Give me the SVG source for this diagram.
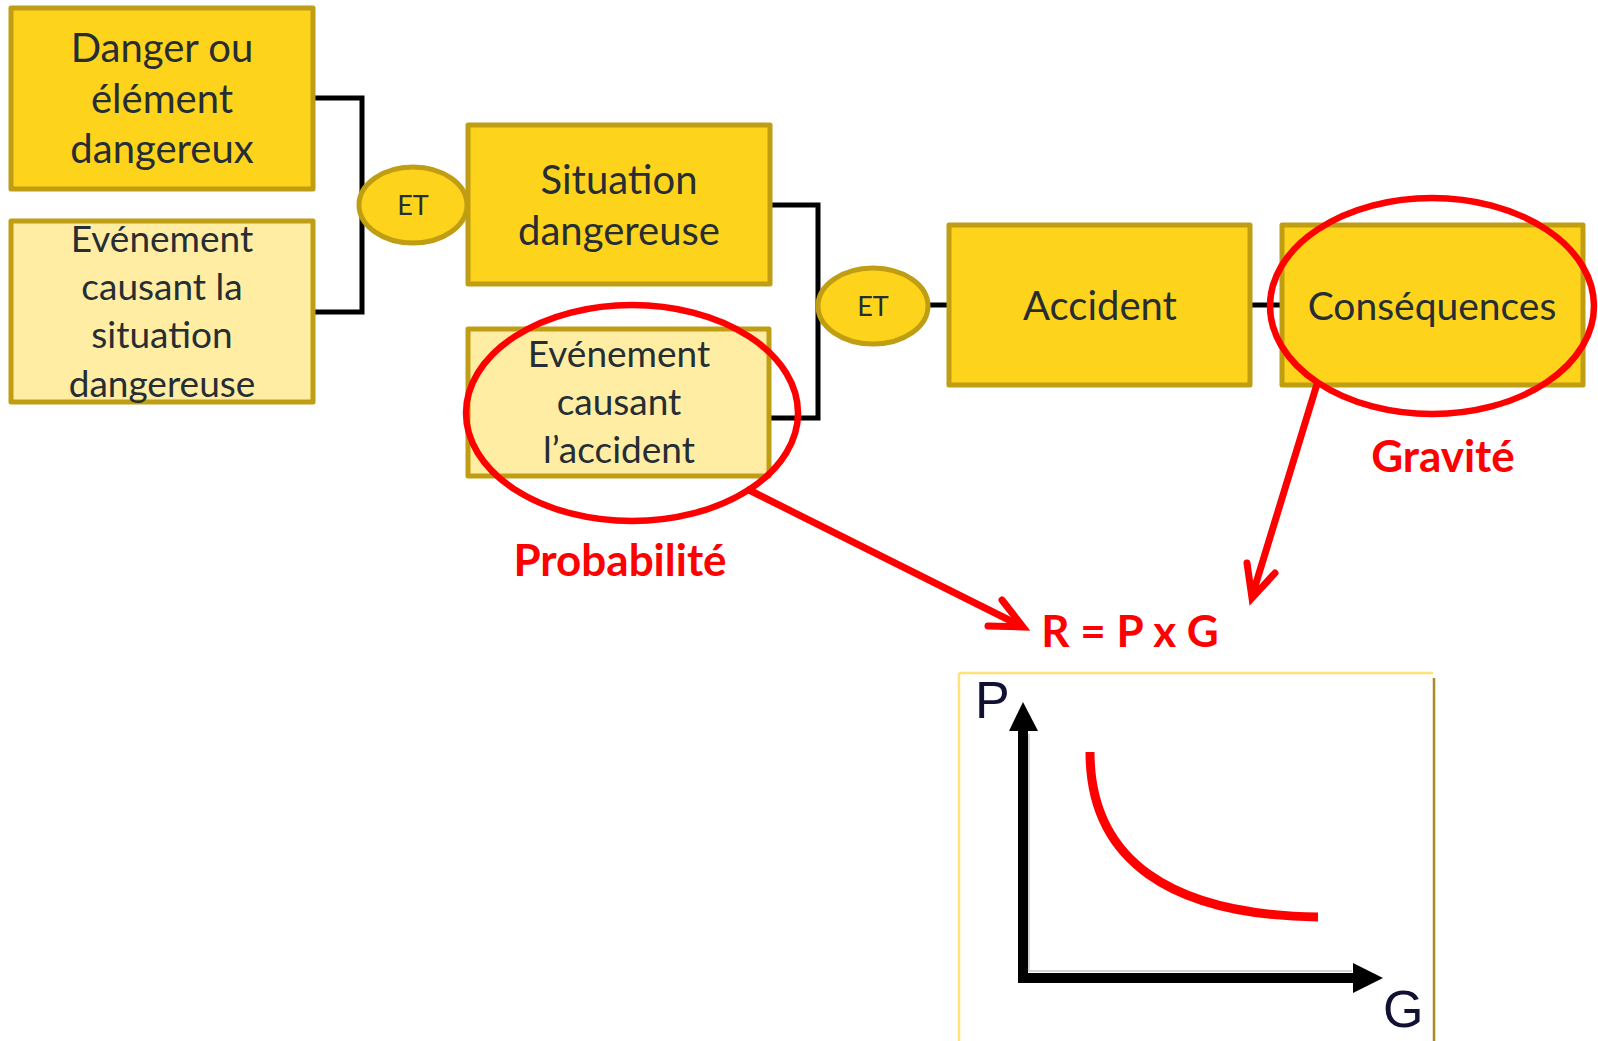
<svg xmlns="http://www.w3.org/2000/svg" width="1598" height="1041" viewBox="0 0 1598 1041">
<defs>
<style>
.box{stroke:#BF9E14;stroke-width:5;stroke-linejoin:round}
.dark{fill:#FED31C}
.light{fill:#FFEDA3}
.t{font-family:Lato,"Open Sans",sans-serif;font-size:40px;fill:#262D33;text-anchor:middle}
.s{font-size:37px}
.et{font-family:Lato,"Open Sans",sans-serif;font-size:27px;fill:#262D33;text-anchor:middle}
.conn{fill:none;stroke:#000;stroke-width:5;stroke-linejoin:miter}
.red{fill:none;stroke:#FF0000;stroke-width:6.5}
.rarrow{fill:none;stroke:#FF0000;stroke-width:7;stroke-linecap:round;stroke-linejoin:miter}
.rl{font-family:Lato,"Open Sans",sans-serif;font-weight:bold;font-size:44px;fill:#FF0000;text-anchor:middle}
.ax{font-family:"Liberation Sans",Arial,sans-serif;font-size:52px;fill:#111133}
</style>
</defs>
<rect width="1598" height="1041" fill="#FFFFFF"/>
<g id="connectors">
<path class="conn" d="M315,98 H362 V312 H315"/>
<path class="conn" d="M772,205 H818 V418 H771"/>
<path class="conn" d="M925,305 H947"/>
<path class="conn" d="M1252,305 H1280"/>
</g>
<g id="danger">
<rect class="box dark" x="11" y="8" width="302" height="181"/>
<text class="t" x="162" y="62">Danger ou</text>
<text class="t" x="162" y="113">élément</text>
<text class="t" x="162" y="163">dangereux</text>
</g>
<g id="evenement-situation">
<rect class="box light" x="11" y="221" width="302" height="181"/>
<text class="t s" x="162" y="252">Evénement</text>
<text class="t s" x="162" y="300">causant la</text>
<text class="t s" x="162" y="348">situation</text>
<text class="t s" x="162" y="397">dangereuse</text>
</g>
<g id="et1">
<ellipse class="box dark" cx="413" cy="205" rx="54" ry="38"/>
<text class="et" x="413" y="215">ET</text>
</g>
<g id="situation">
<rect class="box dark" x="468" y="125" width="302" height="159"/>
<text class="t" x="619" y="194">Situation</text>
<text class="t" x="619" y="245">dangereuse</text>
</g>
<g id="evenement-accident">
<rect class="box light" x="468" y="329" width="301" height="147"/>
<text class="t s" x="619" y="367">Evénement</text>
<text class="t s" x="619" y="415">causant</text>
<text class="t s" x="619" y="463">l’accident</text>
</g>
<g id="et2">
<ellipse class="box dark" cx="873" cy="306" rx="55" ry="38"/>
<text class="et" x="873" y="316">ET</text>
</g>
<g id="accident">
<rect class="box dark" x="949" y="225" width="301" height="160"/>
<text class="t" x="1100" y="320">Accident</text>
</g>
<g id="consequences">
<rect class="box dark" x="1282" y="225" width="301" height="160"/>
<text class="t" x="1432" y="320" style="font-size:39px">Conséquences</text>
</g>
<g id="annotations">
<ellipse class="red" cx="632" cy="413" rx="166" ry="108"/>
<ellipse class="red" cx="1432" cy="306" rx="162" ry="108"/>
<line class="rarrow" x1="749" y1="490" x2="1019" y2="625"/>
<polyline class="rarrow" points="1002,600 1023,627 988,626"/>
<line class="rarrow" x1="1317" y1="384" x2="1253" y2="593"/>
<polyline class="rarrow" points="1247,563 1252,598 1275,573"/>
<text class="rl" x="620" y="576">Probabilité</text>
<text class="rl" x="1443" y="472">Gravité</text>
<text class="rl" x="1130" y="647">R = P x G</text>
</g>
<g id="chart">
<line x1="959" y1="673" x2="1433" y2="673" stroke="#FFE27A" stroke-width="2.5"/>
<line x1="959" y1="673" x2="959" y2="1041" stroke="#FFE27A" stroke-width="2.5"/>
<line x1="1434" y1="678" x2="1434" y2="1041" stroke="#A88A26" stroke-width="2.5"/>
<line x1="1029" y1="734" x2="1029" y2="972" stroke="#D4D4D4" stroke-width="2"/>
<line x1="1029" y1="971" x2="1352" y2="971" stroke="#D4D4D4" stroke-width="2"/>
<line x1="1023" y1="983" x2="1023" y2="728" stroke="#000" stroke-width="10"/>
<polygon points="1009,731 1038,731 1023,702" fill="#000"/>
<line x1="1018" y1="978" x2="1356" y2="978" stroke="#000" stroke-width="10"/>
<polygon points="1353,963 1353,993 1383,978" fill="#000"/>
<path d="M1090,752 C1090,860 1170,915 1318,917" fill="none" stroke="#FF0000" stroke-width="9"/>
<text class="ax" x="975" y="718">P</text>
<text class="ax" x="1383" y="1027">G</text>
</g>
</svg>
